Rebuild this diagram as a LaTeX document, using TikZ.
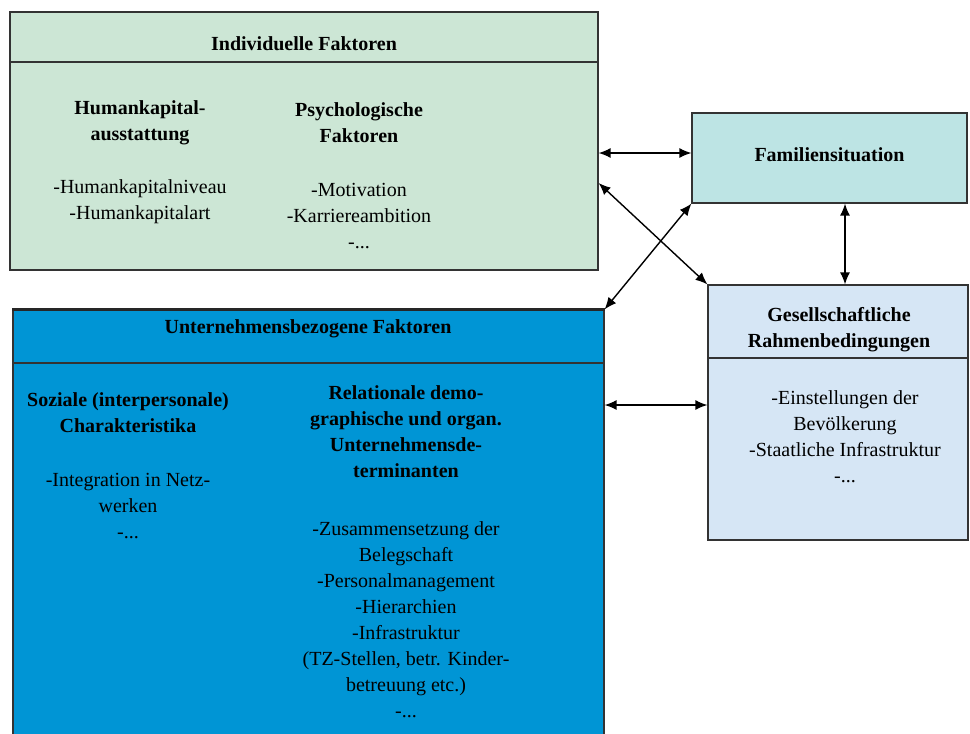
\documentclass[tikz,border=0pt]{standalone}
\usepackage{fontspec}
\setmainfont{Liberation Serif}
\usetikzlibrary{arrows,arrows.meta,calc,positioning}

\definecolor{indivgreen}{RGB}{204,230,213}
\definecolor{famcyan}{RGB}{189,228,228}
\definecolor{gesblue}{RGB}{214,230,245}
\definecolor{unterblue}{RGB}{0,149,213}

\begin{document}
\begin{tikzpicture}[x=0.5pt,y=-0.5pt]
    \tikzstyle{every node}=[font=\fontsize{10}{13}\selectfont, align=center, inner sep=0pt]
    \tikzstyle{box}=[draw=black!80, line width=0.6pt, rectangle, inner sep=0pt]
    \tikzstyle{head}=[font=\fontsize{10}{13}\selectfont\bfseries]
    \tikzstyle{arr}=[{Latex[length=6pt,width=5pt]}-{Latex[length=6pt,width=5pt]}, line width=0.7pt]

      \clip (0,0) rectangle (970,734);

      % boxes
      \node[box, fill=indivgreen, minimum width=294pt, minimum height=129pt] (indiv) at (304,141) {};
      \node[box, fill=famcyan, minimum width=137.5pt, minimum height=45pt] (fam) at (829.5,158) {};
      \node[box, fill=gesblue, minimum width=130pt, minimum height=127.5pt] (ges) at (838,412.5) {};
      \node[box, fill=unterblue, minimum width=295.5pt, minimum height=220pt] (unter) at (308.5,530) {};
      \draw[line width=1.2pt, black!85] (unter.north west) -- (unter.north east);

      % dividers
      \draw[black!80, line width=0.6pt] (indiv.west |- 0,62) -- (indiv.east |- 0,62);
      \draw[black!80, line width=0.6pt] (ges.west |- 0,358) -- (ges.east |- 0,358);
      \draw[black!80, line width=0.6pt] (unter.west |- 0,363) -- (unter.east |- 0,363);

      % individuelle faktoren
      \node[head] (indivtitle) at (304,44) {Individuelle Faktoren};
      \node[head] (humkap) at (140,122.5) {Humankapital-\\ausstattung};
      \node (humkaplist) at (140,201.5) {-Humankapitalniveau\\-Humankapitalart};
      \node[head] (psych) at (359,122.5) {Psychologische\\Faktoren};
      \node (psychlist) at (359,216) {-Motivation\\-Karriereambition\\-...};

      % familie
      \node[head] (famtitle) at (829.5,155) {Familiensituation};

      % gesellschaft
      \node[head] (gestitle) at (839,330) {Gesellschaftliche\\Rahmenbedingungen};
      \node (geslist) at (845,436.5) {-Einstellungen der\\Bevölkerung\\-Staatliche Infrastruktur\\-...};

      % unternehmen
      \node[head] (untertitle) at (308,329) {Unternehmensbezogene Faktoren};
      \node[head] (sozial) at (128,412.5) {Soziale (interpersonale)\\Charakteristika};
      \node (soziallist) at (128,506) {-Integration in Netz-\\werken\\-...};
      \node[head] (relat) at (406,432) {Relationale demo-\\graphische und organ.\\Unternehmensde-\\terminanten};
      \node (relatlist) at (406,619.5) {-Zusammensetzung der\\Belegschaft\\-Personalmanagement\\-Hierarchien\\-Infrastruktur\\(TZ-Stellen, betr. Kinder-\\betreuung etc.)\\-...};

      % arrows
      \coordinate (famin) at ([yshift=2.5pt]fam.west);
      \draw[arr] (indiv.east |- famin) -- (famin);
      \coordinate (indivout) at (indiv.east |- 0,183);
      \draw[arr] (indivout) -- (ges.north west);
      \draw[arr] (fam.south west) -- (unter.north east);
      \coordinate (famges) at ([xshift=3.5pt]ges.north);
      \draw[arr] (fam.south -| famges) -- (famges);
      \coordinate (gesin) at ([yshift=3.75pt]ges.west);
      \draw[arr] (unter.east |- gesin) -- (gesin);

    \end{tikzpicture}
\end{document}
